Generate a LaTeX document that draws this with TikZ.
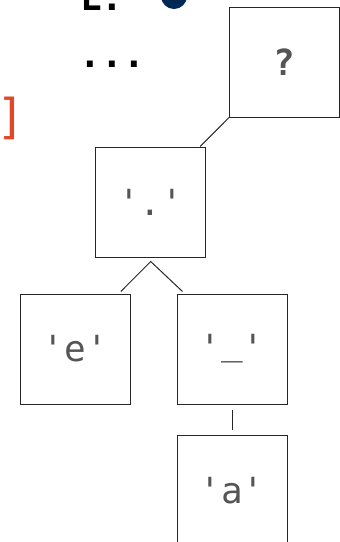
\documentclass[tikz,border=0pt]{standalone}
\usepackage{fontspec}
\setmonofont{DejaVu Sans Mono}
\definecolor{tokgray}{RGB}{85,85,85}
\definecolor{ptrnavy}{RGB}{0,40,85}
\definecolor{brackred}{RGB}{224,72,42}
\usetikzlibrary{positioning,calc}

\begin{document}
\begin{tikzpicture}[x=1pt,y=-1pt,
  tokbox/.style={
    rectangle, draw=black!85, line width=1pt,
    minimum size=110pt, inner sep=0pt,
    font=\ttfamily\fontsize{36}{36}\selectfont,
    text=tokgray
  },
  treeedge/.style={draw=black!85, line width=1pt}
]
\useasboundingbox (0,0) rectangle (340,542);

\node[font=\ttfamily\bfseries\fontsize{36}{36}\selectfont, anchor=base] (lhead) at (102,10) {L:};
\node[circle, fill=ptrnavy, minimum size=26pt, inner sep=0pt] (ptr) at (174,-4) {};
\node[font=\ttfamily\bfseries\fontsize{36}{36}\selectfont, anchor=base] (more) at (112.2,67) {...};
\node[font=\ttfamily\fontsize{48}{48}\selectfont, text=brackred, anchor=base east, inner sep=0pt] (rbrack) at (26,133) {]};

\node[tokbox, font=\ttfamily\bfseries\fontsize{36}{36}\selectfont] (qmark) at (284.5,62)  {?};
\node[tokbox] (dot)   at (150.7,202) {'.'};
\node[tokbox] (tokE)  at (75.3,349)  {'e'};
\node[tokbox] (under) at (232,349)   {'\raisebox{0.17em}{\_}'};
\node[tokbox] (tokA)  at (232,490.7) {'a'};

\draw[treeedge] (qmark.south west) -- ([xshift=-6pt]dot.north east);
\draw[treeedge] ([shift={(-10pt,2pt)}]tokE.north east) -- ([yshift=-4pt]dot.south)
  -- ([shift={(6pt,2pt)}]under.north west);
\draw[treeedge] ([yshift=-5pt]under.south) -- ([yshift=5pt]tokA.north);
\end{tikzpicture}
\end{document}
